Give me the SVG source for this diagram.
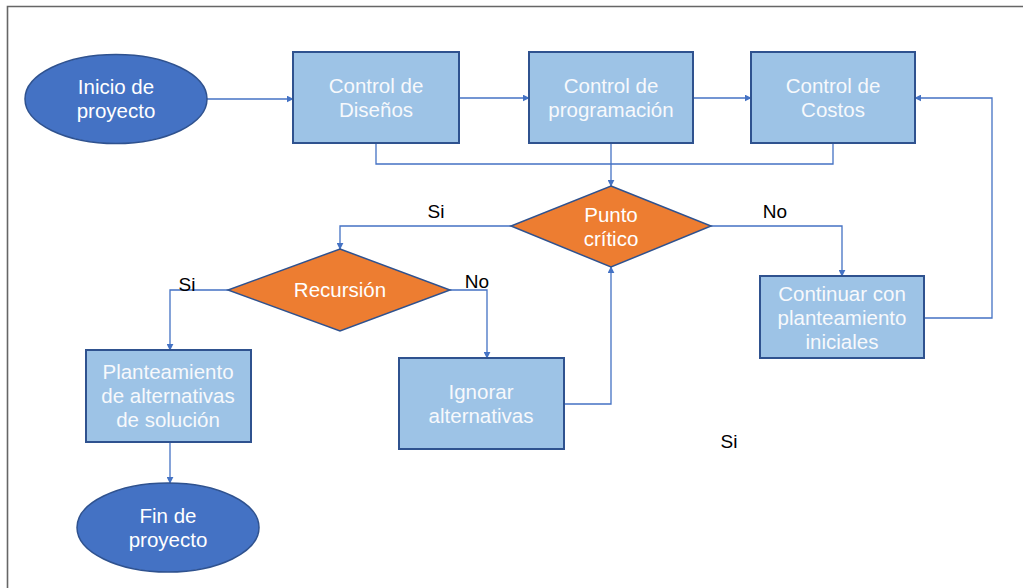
<svg xmlns="http://www.w3.org/2000/svg" width="1023" height="588" viewBox="0 0 1023 588">
  <defs>
    <marker id="arrow" viewBox="0 0 10 10" refX="9" refY="5" markerWidth="7" markerHeight="7" markerUnits="userSpaceOnUse" orient="auto">
      <path d="M0,0 L10,5 L0,10 z" fill="#4472C4"/>
    </marker>
    <style>
      .terminal { fill: #4472C4; stroke: #2F528F; stroke-width: 1.5; }
      .process { fill: #9DC3E6; stroke: #2F528F; stroke-width: 2; }
      .decision { fill: #ED7D31; stroke: #2F528F; stroke-width: 1.5; }
      .inner { font-family: "Liberation Sans", Arial, sans-serif; font-size: 20.5px; fill: #FFFFFF; text-anchor: middle; }
      .pale { fill: #F7F9FC; }
      .label { font-family: "Liberation Sans", Arial, sans-serif; font-size: 19px; fill: #000000; text-anchor: middle; }
      .link { fill: none; stroke: #4472C4; stroke-width: 1.3; }
      .frame { fill: none; stroke: #666666; stroke-width: 1.6; }
    </style>
  </defs>

  <rect x="0" y="0" width="1023" height="588" fill="#FFFFFF"/>
  <path class="frame" d="M7.5,588 V6.5 H1023"/>

  <!-- connectors -->
  <g id="connectors">
    <path class="link" d="M207,99 H293" marker-end="url(#arrow)"/>
    <path class="link" d="M459,98 H529" marker-end="url(#arrow)"/>
    <path class="link" d="M693,98 H751" marker-end="url(#arrow)"/>
    <path class="link" d="M376,143 V164 H833 V143"/>
    <path class="link" d="M611,143 V186" marker-end="url(#arrow)"/>
    <path class="link" d="M511,226 H340 V249" marker-end="url(#arrow)"/>
    <path class="link" d="M711,226 H842 V276" marker-end="url(#arrow)"/>
    <path class="link" d="M924,318 H992 V98 H915" marker-end="url(#arrow)"/>
    <path class="link" d="M228,290 H170 V350" marker-end="url(#arrow)"/>
    <path class="link" d="M450,290 H487 V358" marker-end="url(#arrow)"/>
    <path class="link" d="M564,404 H611 V267" marker-end="url(#arrow)"/>
    <path class="link" d="M170,442 V483" marker-end="url(#arrow)"/>
  </g>

  <!-- branch labels -->
  <g id="labels">
    <text class="label" x="436" y="218">Si</text>
    <text class="label" x="775" y="218">No</text>
    <text class="label" x="187" y="291">Si</text>
    <text class="label" x="477" y="288">No</text>
    <text class="label" x="729" y="448">Si</text>
  </g>

  <g id="inicio">
    <ellipse class="terminal" cx="116" cy="99" rx="91" ry="44.5"/>
    <text class="inner" x="116" y="94">Inicio de<tspan x="116" dy="24">proyecto</tspan></text>
  </g>

  <g id="control-disenos">
    <rect class="process" x="293" y="52" width="166" height="91"/>
    <text class="inner pale" x="376" y="93">Control de<tspan x="376" dy="24">Diseños</tspan></text>
  </g>

  <g id="control-programacion">
    <rect class="process" x="529" y="52" width="164" height="91"/>
    <text class="inner pale" x="611" y="93">Control de<tspan x="611" dy="24">programación</tspan></text>
  </g>

  <g id="control-costos">
    <rect class="process" x="751" y="52" width="164" height="91"/>
    <text class="inner pale" x="833" y="93">Control de<tspan x="833" dy="24">Costos</tspan></text>
  </g>

  <g id="punto-critico">
    <polygon class="decision" points="611,186 711,226 611,267 511,226"/>
    <text class="inner" x="611" y="222">Punto<tspan x="611" dy="24">crítico</tspan></text>
  </g>

  <g id="recursion">
    <polygon class="decision" points="340,249 450,290 340,331 228,290"/>
    <text class="inner" x="340" y="297">Recursión</text>
  </g>

  <g id="continuar">
    <rect class="process" x="760" y="276" width="164" height="82"/>
    <text class="inner pale" x="842" y="301">Continuar con<tspan x="842" dy="24">planteamiento</tspan><tspan x="842" dy="24">iniciales</tspan></text>
  </g>

  <g id="planteamiento">
    <rect class="process" x="86" y="350" width="165" height="92"/>
    <text class="inner pale" x="168" y="379">Planteamiento<tspan x="168" dy="24">de alternativas</tspan><tspan x="168" dy="24">de solución</tspan></text>
  </g>

  <g id="ignorar">
    <rect class="process" x="399" y="358" width="165" height="91"/>
    <text class="inner pale" x="481" y="399">Ignorar<tspan x="481" dy="24">alternativas</tspan></text>
  </g>

  <g id="fin">
    <ellipse class="terminal" cx="168" cy="527.5" rx="91" ry="44.5"/>
    <text class="inner" x="168" y="523">Fin de<tspan x="168" dy="24">proyecto</tspan></text>
  </g>
</svg>
